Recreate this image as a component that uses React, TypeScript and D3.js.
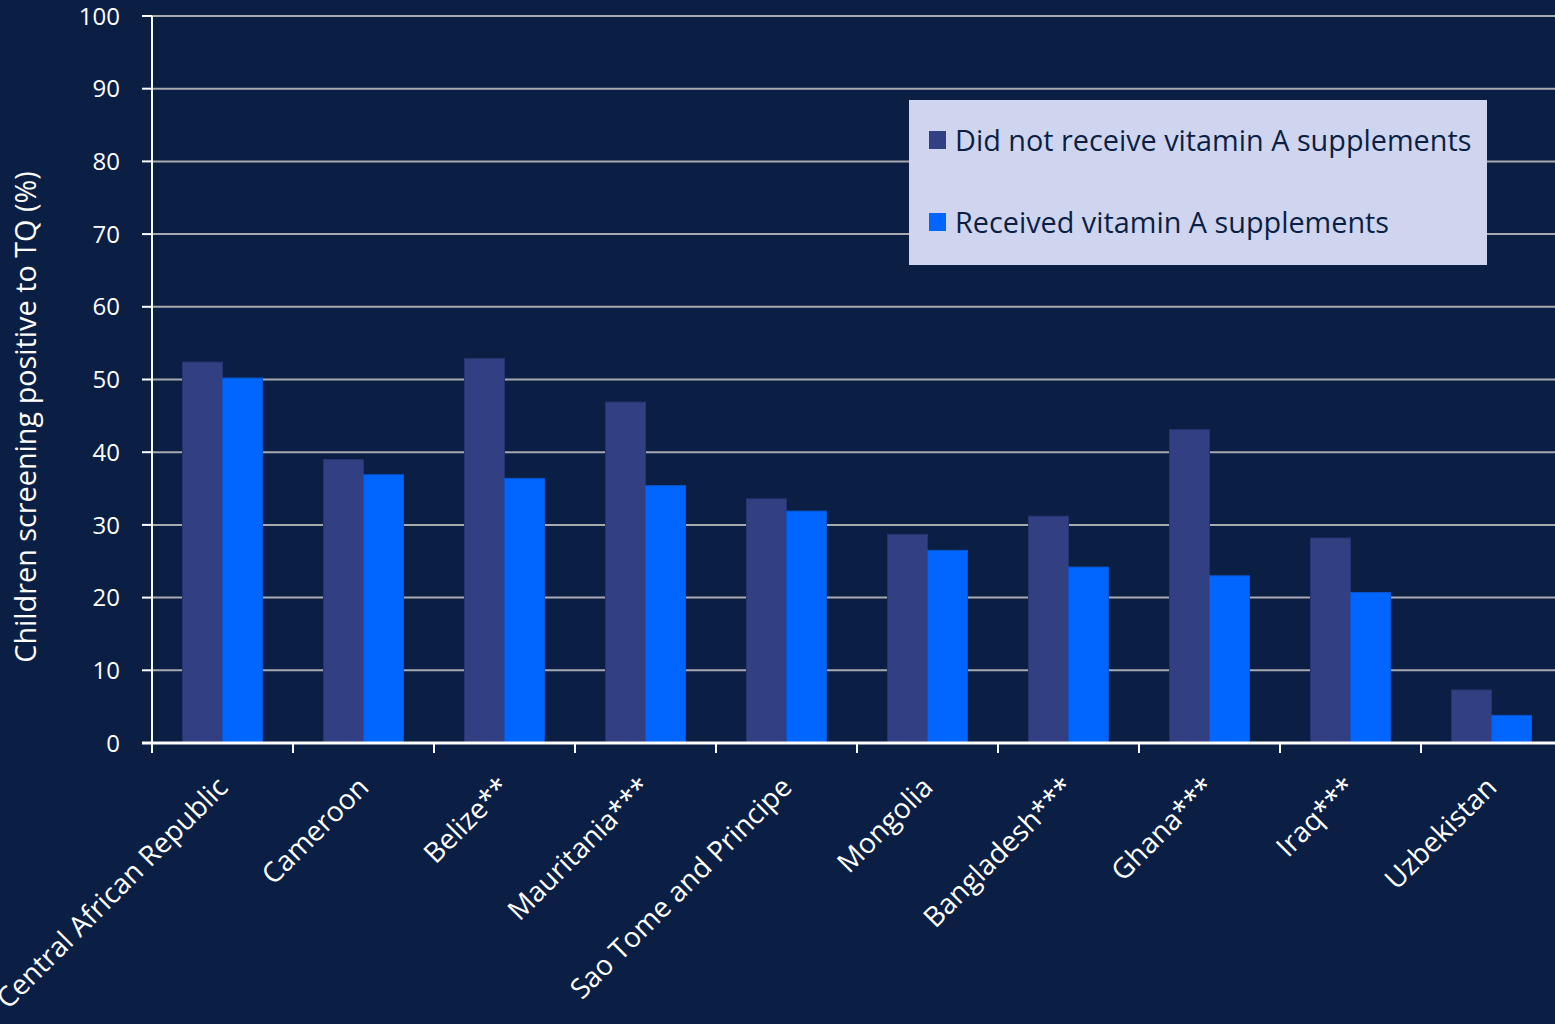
import React from "react";
import * as d3 from "d3";

const categories = [
  "Central African Republic",
  "Cameroon",
  "Belize**",
  "Mauritania***",
  "Sao Tome and Principe",
  "Mongolia",
  "Bangladesh***",
  "Ghana***",
  "Iraq***",
  "Uzbekistan",
];
const seriesNames = ["Did not receive vitamin A supplements", "Received vitamin A supplements"];
const notReceived = [52.4, 39.0, 52.9, 46.9, 33.6, 28.7, 31.2, 43.1, 28.2, 7.3];
const received = [50.2, 36.9, 36.4, 35.4, 31.9, 26.5, 24.2, 23.0, 20.7, 3.8];
const yTicks = [0, 10, 20, 30, 40, 50, 60, 70, 80, 90, 100];
const yTitle = "Children screening positive to TQ (%)";

const W = 1555;
const H = 1024;
const BG = "#0b1f45";
const COLORS = ["#323f82", "#0066ff"];
const FONT = "'Open Sans', Lato, sans-serif";

export default function App() {
  const left = 152;
  const right = 1562;
  const top = 16;
  const bottom = 743;
  const x = d3.scaleBand<string>().domain(categories).range([left, right]).padding(0);
  const inner = d3
    .scaleBand<string>()
    .domain(seriesNames)
    .range([0, x.step()])
    .paddingInner(0)
    .paddingOuter(0.7625);
  const y = d3.scaleLinear().domain([0, 100]).range([bottom, top]);
  const data = [notReceived, received];

  return (
    <svg
      width={W}
      height={H}
      style={{ position: "absolute", left: 0, top: 0, background: BG, fontFamily: FONT }}
    >
      <rect x={0} y={0} width={W} height={H} fill={BG} />
      {/* gridlines */}
      {yTicks
        .filter((t) => t > 0)
        .map((t) => (
          <line key={t} x1={left} x2={W} y1={y(t)} y2={y(t)} stroke="#a9a9b0" strokeWidth={2} />
        ))}
      {/* bars */}
      {categories.map((c, i) => (
        <g key={c}>
          {data.map((vals, s) => (
            <rect
              key={s}
              x={(x(c) as number) + (inner(seriesNames[s]) as number)}
              y={y(vals[i])}
              width={inner.bandwidth()}
              height={bottom - y(vals[i])}
              fill={COLORS[s]}
              stroke={s === 0 ? "#26336f" : "#0a55cc"}
              strokeWidth={1}
            />
          ))}
        </g>
      ))}
      {/* y axis */}
      <line x1={left} x2={left} y1={top} y2={bottom} stroke="#ffffff" strokeWidth={2} />
      {yTicks.map((t) => (
        <g key={t}>
          <line x1={left - 10} x2={left} y1={y(t)} y2={y(t)} stroke="#ffffff" strokeWidth={2} />
          <text
            x={120}
            y={y(t)}
            dy="0.36em"
            textAnchor="end"
            fill="#ffffff"
            fontSize={24}
          >
            {t}
          </text>
        </g>
      ))}
      {/* x axis */}
      <line x1={left - 10} x2={W} y1={bottom} y2={bottom} stroke="#ffffff" strokeWidth={3} />
      {categories.map((c, i) => (
        <line
          key={"t" + i}
          x1={x(c) as number}
          x2={x(c) as number}
          y1={bottom}
          y2={bottom + 10}
          stroke="#ffffff"
          strokeWidth={2}
        />
      ))}
      {categories.map((c) => {
        const cx = (x(c) as number) + x.bandwidth() / 2;
        return (
          <text
            key={"l" + c}
            transform={`translate(${cx + 7},${789}) rotate(-45)`}
            textAnchor="end"
            fill="#ffffff"
            fontSize={28}
          >
            {c}
          </text>
        );
      })}
      {/* y title */}
      <text
        transform={`translate(36,${(172 + 662) / 2}) rotate(-90)`}
        textAnchor="middle"
        fill="#ffffff"
        fontSize={28.8}
      >
        {yTitle}
      </text>
      {/* legend */}
      <rect x={909} y={100} width={578} height={165} fill="#cfd5ee" />
      {seriesNames.map((s, i) => (
        <g key={s}>
          <rect x={929} y={131 + i * 82} width={17} height={18} fill={COLORS[i]} />
          <text x={955} y={151 + i * 82} fill="#0b1f45" fontSize={28.8}>
            {s}
          </text>
        </g>
      ))}
    </svg>
  );
}
